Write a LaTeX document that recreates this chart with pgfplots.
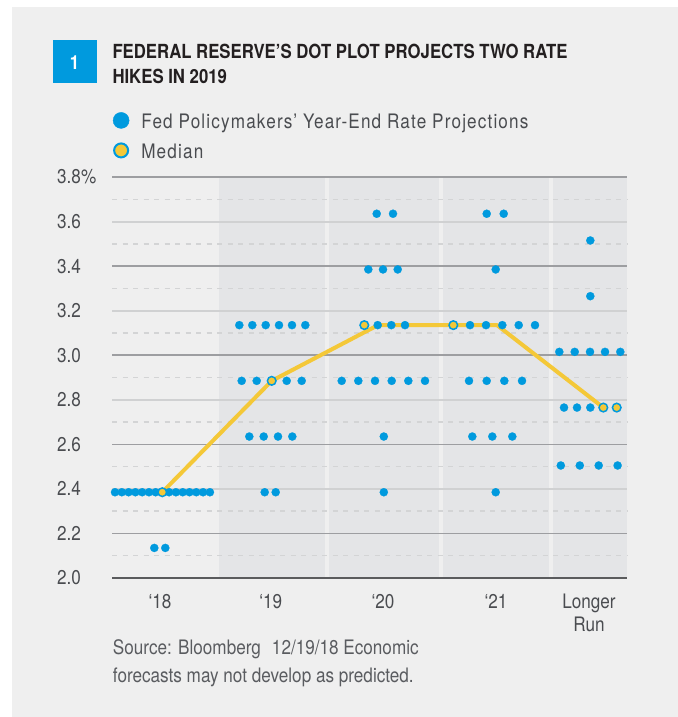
\documentclass[border=0pt]{standalone}
\usepackage{fontspec}
\usepackage{pgfplots}
\pgfplotsset{compat=1.18}
\setmainfont{TeX Gyre Heros}[FakeStretch=0.86]
\newfontfamily\titlefont{TeX Gyre Heros}[FakeStretch=0.862]
\definecolor{fedblue}{HTML}{009ADE}
\definecolor{fedyellow}{HTML}{F4C838}
\definecolor{panelgray}{HTML}{EFEFEF}
\definecolor{bandgray}{HTML}{E4E5E7}
\definecolor{darkgrid}{HTML}{9D9EA1}
\definecolor{lightgrid}{HTML}{D0D1D2}
\definecolor{dashgrid}{HTML}{D3D4D5}
\definecolor{axisdark}{HTML}{5A5B5D}
\definecolor{titletext}{HTML}{231F20}
\definecolor{labeltext}{HTML}{4A4C50}
\definecolor{sourcetext}{HTML}{5A5C60}
\newcommand\lbl{\fontsize{20}{23}\selectfont}
\begin{document}
\begin{tikzpicture}[x=1bp,y=1bp]
\fill[white] (0,0) rectangle (678,717);
\fill[panelgray] (12,0) rectangle (678,710);
% number box and title
\fill[fedblue] (53.3,633.7) rectangle (96.7,677);
\node[inner sep=0, text=white, font=\titlefont\bfseries\fontsize{19.5}{19.5}\selectfont] at (74.5,654.5) {1};
\node[anchor=base west, inner sep=0, text=titletext, font=\titlefont\bfseries\fontsize{19.5}{19.5}\selectfont] at (112.3,658.7) {FEDERAL RESERVE’S DOT PLOT PROJECTS TWO RATE};
\node[anchor=base west, inner sep=0, text=titletext, font=\titlefont\bfseries\fontsize{19.5}{19.5}\selectfont] at (112.3,633.7) {HIKES IN 2019};
% source
\node[anchor=base west, inner sep=0, text=sourcetext, font=\lbl] at (112.7,62) {Source: Bloomberg\hspace{11bp}12/19/18 Economic};
\node[anchor=base west, inner sep=0, text=sourcetext, font=\lbl] at (112.7,34) {forecasts may not develop as predicted.};
\begin{axis}[
  at={(112bp,139bp)}, anchor=south west,
  width=515bp, height=401bp, scale only axis,
  xmin=112, xmax=627, ymin=2, ymax=3.8,
  clip=false,
  axis line style={draw=none},
  major tick length=0pt,
  xtick={160,270.7,383,496,589},
  xticklabels={‘18,‘19,‘20,‘21,{Longer\\Run}},
  xticklabel style={align=center, anchor=north, inner sep=0pt, yshift=-16bp, font=\lbl, text=labeltext},
  ytick={2.0,2.2,2.4,2.6,2.8,3.0,3.2,3.4,3.6,3.8},
  yticklabels={2.0,2.2,2.4,2.6,2.8,3.0,3.2,3.4,3.6,3.8\%},
  yticklabel style={anchor=west, inner sep=0pt, xshift=-55bp, font=\lbl, text=labeltext},
  /pgf/number format/assume math mode=true,
  legend style={at={(axis description cs:0.0014,1.162)}, anchor=north west, draw=none, fill=none, inner sep=0pt,
    row sep=10bp, font=\lbl\addfontfeatures{LetterSpace=5.8}, text=labeltext,
    /tikz/every odd column/.append style={column sep=10bp}},
  legend cell align=left,
]
% bands
\fill[bandgray] (axis cs:219,2) rectangle (axis cs:325,3.8);
\fill[bandgray] (axis cs:329,2) rectangle (axis cs:439,3.8);
\fill[bandgray] (axis cs:443,2) rectangle (axis cs:549,3.8);
\fill[bandgray] (axis cs:553,2) rectangle (axis cs:627,3.8);
% grid
\pgfplotsinvokeforeach{2.1,2.3,2.5,2.7,2.9,3.1,3.3,3.5,3.7}{
  \draw[dashgrid, line width=1.5bp, dash pattern=on 5bp off 5.5bp] (axis cs:112,#1) -- (axis cs:627,#1);}
\pgfplotsinvokeforeach{2.4,2.8,3.2,3.6}{
  \draw[lightgrid, line width=2bp] (axis cs:112,#1) -- (axis cs:627,#1);}
\pgfplotsinvokeforeach{2.2,2.6,3.0,3.4,3.8}{
  \draw[darkgrid, line width=1.5bp] (axis cs:112,#1) -- (axis cs:627,#1);}
\draw[axisdark, line width=2bp] (axis cs:112,2) -- (axis cs:627,2);
% median line
\addplot[fedyellow, line width=4bp, line join=round, forget plot] coordinates {
  (162.3,2.385) (271.7,2.885) (378,3.135) (497,3.135) (603.3,2.765)};
% policymaker dots
\addplot[color=fedblue, only marks, mark=*, mark size=4.1bp, mark options={fill=fedblue, draw=fedblue, line width=0.2bp},
  legend image code/.code={\fill[fedblue] (0bp,2bp) circle (8bp);}] table {
x y
115.0 2.385
121.8 2.385
128.6 2.385
135.4 2.385
142.2 2.385
149.0 2.385
155.6 2.385
169.1 2.385
175.9 2.385
182.7 2.385
189.5 2.385
196.3 2.385
203.1 2.385
209.9 2.385
154.3 2.135
165.3 2.135
239.3 3.135
252.3 3.135
265.7 3.135
279.0 3.135
292.0 3.135
305.3 3.135
241.7 2.885
256.7 2.885
286.7 2.885
301.7 2.885
249.3 2.635
263.7 2.635
278.0 2.635
292.3 2.635
264.7 2.385
275.7 2.385
376.7 3.635
393.0 3.635
368.3 3.385
383.0 3.385
397.7 3.385
377.7 3.135
391.3 3.135
405.0 3.135
341.7 2.885
358.3 2.885
375.0 2.885
391.7 2.885
408.3 2.885
425.0 2.885
383.8 2.635
383.8 2.385
486.7 3.635
503.7 3.635
495.7 3.385
470.0 3.135
486.0 3.135
502.3 3.135
518.7 3.135
535.0 3.135
469.0 2.885
486.7 2.885
504.3 2.885
522.0 2.885
472.3 2.635
492.3 2.635
512.3 2.635
495.7 2.385
590.3 3.515
590.3 3.265
559.3 3.015
574.7 3.015
590.0 3.015
605.0 3.015
620.3 3.015
564.0 2.765
577.0 2.765
590.3 2.765
560.8 2.505
579.8 2.505
598.7 2.505
617.6 2.505
};
\addlegendentry{Fed Policymakers’ Year-End Rate Projections}
% medians
\addplot[color=fedblue, only marks, mark=*, mark size=4.3bp, mark options={fill=fedyellow, draw=fedblue, line width=1.5bp},
  legend image code/.code={\draw[fedblue, fill=fedyellow, line width=2bp] (0bp,2bp) circle (7bp);}] table {
x y
162.3 2.385
271.7 2.885
364.3 3.135
453.3 3.135
603.3 2.765
616.7 2.765
};
\addlegendentry{Median}
\end{axis}
\end{tikzpicture}
\end{document}
